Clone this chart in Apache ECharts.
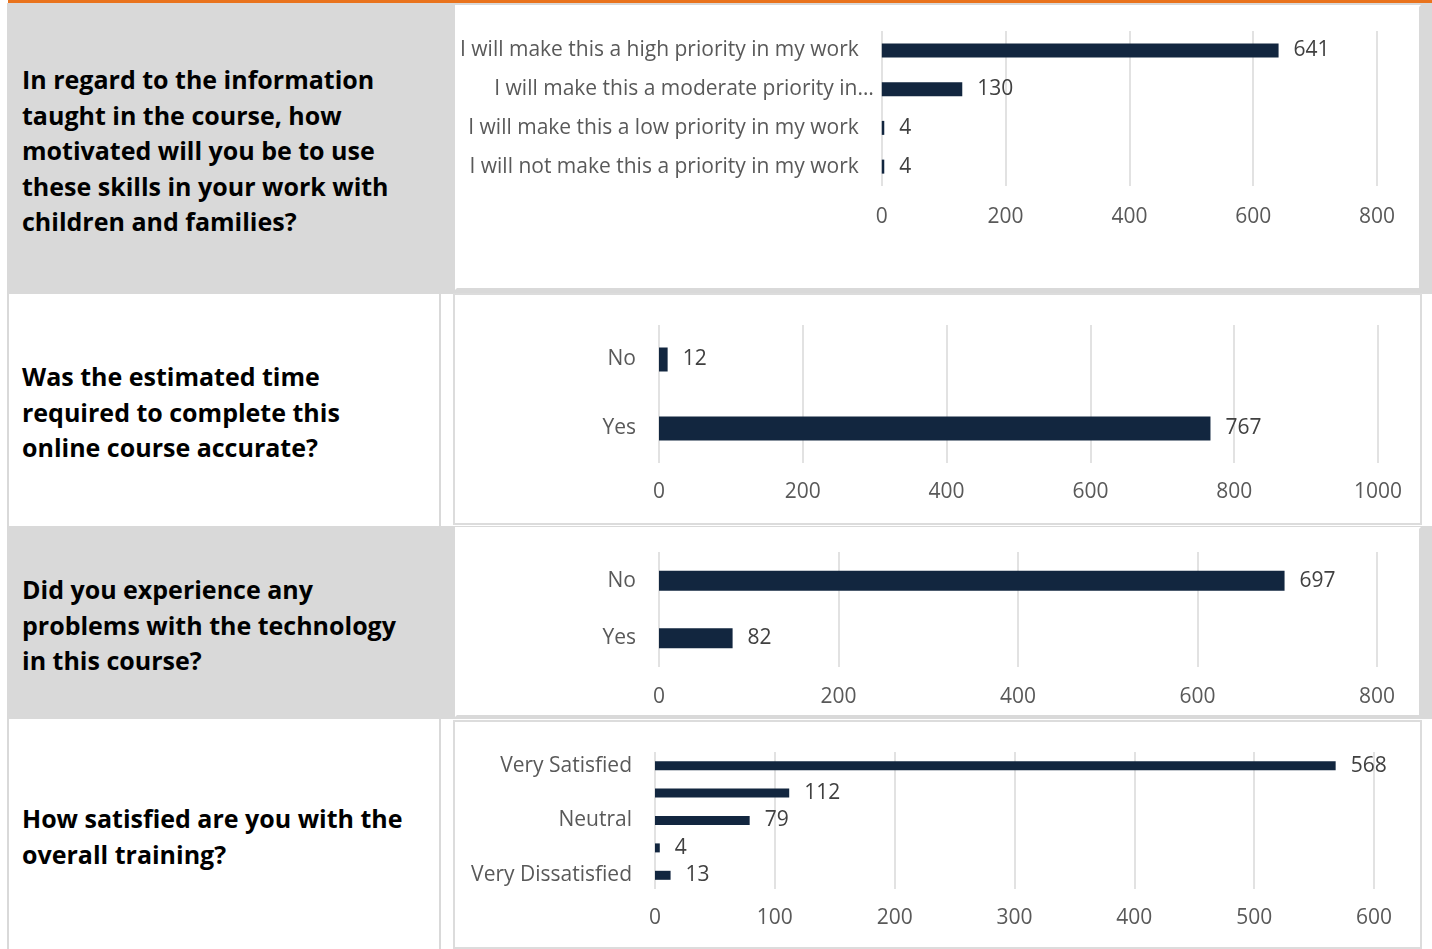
<!DOCTYPE html>
<html>
<head>
<meta charset="utf-8">
<script src="https://cdn.jsdelivr.net/npm/echarts@6/dist/echarts.min.js"></script>
<style>
  html, body { margin: 0; padding: 0; width: 1432px; height: 949px; background: #ffffff; overflow: hidden; }
  .abs { position: absolute; box-sizing: border-box; }
  .q { position: absolute; left: 22px; font-family: "Open Sans", "DejaVu Sans", sans-serif; font-weight: 700;
       font-size: 25px; line-height: 35.5px; color: #000; white-space: nowrap; }
  .box { position: absolute; box-sizing: border-box; background: #ffffff; border: 2px solid #dcdcdc; }
</style>
</head>
<body>
<div class="abs" style="left:8px;top:0;width:1424px;height:3px;background:#E9731D"></div>
<!-- row backgrounds -->
<div class="abs" style="left:7px;top:3px;width:1425px;height:291px;background:#d9d9d9"></div>
<div class="abs" style="left:7px;top:526px;width:1425px;height:193px;background:#d9d9d9"></div>
<!-- white rows left lines -->
<div class="abs" style="left:7px;top:294px;width:2px;height:232px;background:#d9d9d9"></div>
<div class="abs" style="left:439px;top:294px;width:2px;height:232px;background:#d9d9d9"></div>
<div class="abs" style="left:7px;top:719px;width:2px;height:230px;background:#d9d9d9"></div>
<div class="abs" style="left:439px;top:719px;width:2px;height:230px;background:#d9d9d9"></div>

<div class="q" style="top:62px">In regard to the information<br>taught in the course, how<br>motivated will you be to use<br>these skills in your work with<br>children and families?</div>
<div class="q" style="top:359px">Was the estimated time<br>required to complete this<br>online course accurate?</div>
<div class="q" style="top:572px">Did you experience any<br>problems with the technology<br>in this course?</div>
<div class="q" style="top:801px">How satisfied are you with the<br>overall training?</div>

<div id="c1" class="box" style="left:455px;top:5px;width:966px;height:285px;border-color:#ffffff #d9d9d9 #d9d9d9 #ffffff"></div>
<div id="c2" class="box" style="left:453px;top:293px;width:969px;height:232px"></div>
<div id="c3" class="box" style="left:455px;top:527px;width:966px;height:190px;border-color:#ffffff #d9d9d9 #d9d9d9 #ffffff"></div>
<div id="c4" class="box" style="left:453px;top:720px;width:969px;height:229px"></div>

<script>
// ---- data ----
var cats1 = ["I will make this a high priority in my work", "I will make this a moderate priority in\u2026", "I will make this a low priority in my work", "I will not make this a priority in my work"];
var vals1 = [641, 130, 4, 4];
var ticks1 = { min: 0, max: 800, interval: 200 };

var cats2 = ["No", "Yes"];
var vals2 = [12, 767];
var ticks2 = { min: 0, max: 1000, interval: 200 };

var cats3 = ["No", "Yes"];
var vals3 = [697, 82];
var ticks3 = { min: 0, max: 800, interval: 200 };

var cats4 = ["Very Satisfied", "Satisfied", "Neutral", "Dissatisfied", "Very Dissatisfied"];
var vals4 = [568, 112, 79, 4, 13];
var ticks4 = { min: 0, max: 600, interval: 100 };

var FONT = '"Open Sans", "DejaVu Sans", sans-serif';
var BAR = '#12263F';
var FS = 21;

function build(el, cats, vals, ticks, cfg) {
  var chart = echarts.init(document.getElementById(el), null, { renderer: 'canvas' });
  chart.setOption({
    animation: false,
    backgroundColor: 'transparent',
    grid: { left: cfg.left, right: cfg.right, top: cfg.top, height: cfg.height, containLabel: false },
    xAxis: {
      type: 'value', min: ticks.min, max: ticks.max, interval: ticks.interval,
      axisLine: { show: false }, axisTick: { show: false },
      splitLine: { show: true, lineStyle: { color: '#d9d9d9', width: 1.5 } },
      axisLabel: { color: '#595959', fontSize: FS, fontFamily: FONT, margin: cfg.xMargin,
                   formatter: function (v) { return String(v); } }
    },
    yAxis: {
      type: 'category', data: cats, inverse: true,
      axisLine: { show: false }, axisTick: { show: false },
      axisLabel: {
        color: '#595959', fontSize: FS, fontFamily: FONT, margin: 8,
        interval: cfg.labelInterval || 0,
        formatter: function (v) { return /\u2026$/.test(v) ? '{t|' + v + '}' : '{n|' + v + '}'; },
        rich: {
          n: { color: '#595959', fontSize: FS, fontFamily: FONT, padding: [0, 15, 0, 0] },
          t: { color: '#595959', fontSize: FS, fontFamily: FONT, padding: [0, 0, 0, 0] }
        }
      }
    },
    series: [{
      type: 'bar', data: vals, barWidth: cfg.barWidth,
      itemStyle: { color: BAR },
      label: { show: true, position: 'right', distance: 15, color: '#404040', fontSize: FS, fontFamily: FONT }
    }]
  });
}

// box offsets account for the 2px border
build('c1', cats1, vals1, ticks1, { left: 424, right: 42, top: 24, height: 155, xMargin: 21, barWidth: 14 });
build('c2', cats2, vals2, ticks2, { left: 204, right: 42, top: 30, height: 138, xMargin: 19, barWidth: 24 });
build('c3', cats3, vals3, ticks3, { left: 202, right: 42, top: 23, height: 115, xMargin: 20, barWidth: 20 });
build('c4', cats4, vals4, ticks4, { left: 200, right: 46, top: 30, height: 137, xMargin: 19, barWidth: 9, labelInterval: 1 });
</script>
</body>
</html>
